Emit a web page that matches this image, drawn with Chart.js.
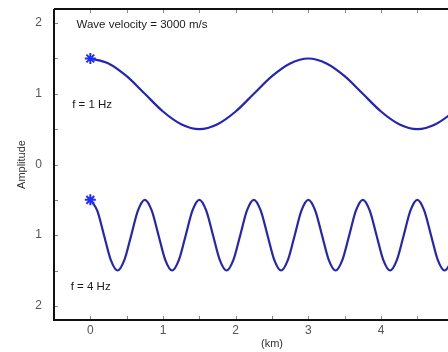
<!DOCTYPE html>
<html>
<head>
<meta charset="utf-8">
<script src="https://cdn.jsdelivr.net/npm/chart.js@4"></script>
<style>
  html, body { margin: 0; padding: 0; overflow: hidden; background: #fff; }
  #wrap { width: 500px; height: 352px; }
</style>
</head>
<body>
<div id="wrap"><canvas id="wave-chart"></canvas></div>
<script>
// f = 1 Hz trace, distance in km
const slowX = [0, 0.25, 0.5, 0.75, 1, 1.25, 1.5, 1.75, 2, 2.25, 2.5, 2.75,
  3, 3.25, 3.5, 3.75, 4, 4.25, 4.5, 4.75, 5, 5.25, 5.5];
const slowY = [1.5, 1.43, 1.25, 1.0, 0.75, 0.57, 0.5, 0.57, 0.75, 1.0, 1.25, 1.43,
  1.5, 1.43, 1.25, 1.0, 0.75, 0.57, 0.5, 0.57, 0.75, 1.0, 1.25];

// f = 4 Hz trace
const fastX = [0, 0.094, 0.188, 0.281, 0.375, 0.469, 0.563, 0.656,
  0.75, 0.844, 0.938, 1.031, 1.125, 1.219, 1.313, 1.406,
  1.5, 1.594, 1.688, 1.781, 1.875, 1.969, 2.063, 2.156,
  2.25, 2.344, 2.438, 2.531, 2.625, 2.719, 2.813, 2.906,
  3, 3.094, 3.188, 3.281, 3.375, 3.469, 3.563, 3.656,
  3.75, 3.844, 3.938, 4.031, 4.125, 4.219, 4.313, 4.406,
  4.5, 4.594, 4.688, 4.781, 4.875, 4.969, 5.063, 5.156,
  5.25, 5.344, 5.438, 5.531];
const fastY = [-0.5, -0.65, -1.0, -1.35, -1.5, -1.35, -1.0, -0.65,
  -0.5, -0.65, -1.0, -1.35, -1.5, -1.35, -1.0, -0.65,
  -0.5, -0.65, -1.0, -1.35, -1.5, -1.35, -1.0, -0.65,
  -0.5, -0.65, -1.0, -1.35, -1.5, -1.35, -1.0, -0.65,
  -0.5, -0.65, -1.0, -1.35, -1.5, -1.35, -1.0, -0.65,
  -0.5, -0.65, -1.0, -1.35, -1.5, -1.35, -1.0, -0.65,
  -0.5, -0.65, -1.0, -1.35, -1.5, -1.35, -1.0, -0.65,
  -0.5, -0.65, -1.0, -1.35];

const xTicks = [-0.5, 0, 0.5, 1, 1.5, 2, 2.5, 3, 3.5, 4, 4.5, 5, 5.5];
const yTicks = [-2, -1.5, -1, -0.5, 0, 0.5, 1, 1.5, 2];

const notes = [
  { text: 'Wave velocity = 3000 m/s', x: -0.19, y: 1.98 },
  { text: 'f = 1 Hz', x: -0.25, y: 0.85 },
  { text: 'f = 4 Hz', x: -0.27, y: -1.73 }
];

const lineBlue = '#2424b8';
const starBlue = '#1f2cff';
const fontFamily = '"Liberation Sans", Arial, sans-serif';

function toPoints(xs, ys) {
  return xs.map((x, i) => ({ x: x, y: ys[i] }));
}

function waveSet(xs, ys) {
  return {
    data: toPoints(xs, ys),
    borderColor: lineBlue,
    borderWidth: 2.2,
    cubicInterpolationMode: 'monotone',
    pointStyle: 'star',
    pointBorderColor: starBlue,
    pointBorderWidth: 2,
    pointRadius: ctx => (ctx.dataIndex === 0 ? 5.5 : 0),
    pointHoverRadius: 0,
    fill: false
  };
}

// frame, inward ticks and the text notes
const framePlugin = {
  id: 'frame',
  afterDatasetsDraw(chart) {
    const { ctx, chartArea: a, scales: { x, y } } = chart;
    ctx.save();
    ctx.strokeStyle = '#888';
    ctx.lineWidth = 1;
    xTicks.forEach(v => {
      const px = Math.round(x.getPixelForValue(v)) + 0.5;
      ctx.beginPath();
      ctx.moveTo(px, a.bottom); ctx.lineTo(px, a.bottom - 4);
      ctx.moveTo(px, a.top); ctx.lineTo(px, a.top + 4);
      ctx.stroke();
    });
    yTicks.forEach(v => {
      const py = Math.round(y.getPixelForValue(v)) + 0.5;
      ctx.beginPath();
      ctx.moveTo(a.left, py); ctx.lineTo(a.left + 4, py);
      ctx.stroke();
    });
    ctx.strokeStyle = '#111';
    ctx.lineWidth = 2;
    ctx.beginPath();
    ctx.moveTo(a.left, a.top); ctx.lineTo(a.right, a.top);
    ctx.moveTo(a.left, a.top); ctx.lineTo(a.left, a.bottom);
    ctx.lineTo(a.right, a.bottom);
    ctx.stroke();

    ctx.fillStyle = '#1a1a1a';
    ctx.font = '11.5px ' + fontFamily;
    ctx.textAlign = 'left';
    ctx.textBaseline = 'middle';
    notes.forEach(n => {
      ctx.fillText(n.text, x.getPixelForValue(n.x), y.getPixelForValue(n.y));
    });
    ctx.restore();
  }
};

const tickFont = { family: fontFamily, size: 12 };

new Chart(document.getElementById('wave-chart'), {
  type: 'line',
  data: { datasets: [waveSet(slowX, slowY), waveSet(fastX, fastY)] },
  options: {
    responsive: true,
    maintainAspectRatio: false,
    animation: false,
    layout: { padding: { top: 9, right: 10, left: 0, bottom: 0 } },
    plugins: { legend: { display: false }, tooltip: { enabled: false } },
    scales: {
      x: {
        type: 'linear',
        min: -0.5,
        max: 5.5,
        grid: { display: false, drawTicks: false },
        border: { display: false },
        afterBuildTicks: s => { s.ticks = xTicks.map(v => ({ value: v })); },
        ticks: {
          padding: 3,
          color: '#555',
          font: tickFont,
          maxRotation: 0,
          autoSkip: false,
          callback: v => (Number.isInteger(v) ? String(v) : '')
        },
        title: {
          display: true,
          text: '(km)',
          color: '#333',
          font: { family: fontFamily, size: 11 },
          padding: { top: 0, bottom: 1 }
        },
        afterFit: s => { s.height = 32; s.paddingLeft = 0; s.paddingRight = 0; }
      },
      y: {
        min: -2.2,
        max: 2.2,
        grid: { display: false, drawTicks: false },
        border: { display: false },
        afterBuildTicks: s => { s.ticks = yTicks.map(v => ({ value: v })); },
        ticks: {
          padding: 12,
          color: '#555',
          font: tickFont,
          autoSkip: false,
          callback: v => (Number.isInteger(v) ? String(Math.abs(v)) : '')
        },
        title: {
          display: true,
          text: 'Amplitude',
          color: '#333',
          font: { family: fontFamily, size: 11 },
          padding: { top: 15, bottom: 0 }
        },
        afterFit: s => { s.width = 54; s.paddingTop = 0; s.paddingBottom = 0; }
      }
    }
  },
  plugins: [framePlugin]
});
</script>
</body>
</html>
